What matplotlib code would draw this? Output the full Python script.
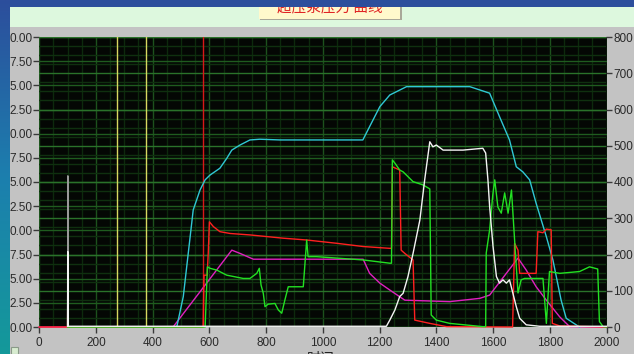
import matplotlib
matplotlib.use("Agg")
import matplotlib.pyplot as plt
import numpy as np
from matplotlib.patches import Rectangle
from matplotlib.ticker import MultipleLocator
from matplotlib.colors import LinearSegmentedColormap

# ---------------- data (right-axis units 0-800) -------------
cyan_x = [100, 485, 508, 543, 567, 585, 602, 637, 661, 679, 708, 743, 778, 849, 1141,
          1165, 1201, 1236, 1295, 1518, 1588, 1623, 1658, 1682, 1705, 1729, 1752,
          1788, 1811, 1840, 1858, 1893, 1905]
cyan_y = [0, 0, 84, 323, 378, 406, 419, 438, 465, 488, 502, 516, 518, 516, 516,
          553, 608, 640, 663, 663, 645, 580, 516, 442, 428, 406, 341,
          249, 185, 74, 24, 6, 0]

white_x = [100, 101, 102, 1224, 1236, 1254, 1271, 1283, 1300, 1318, 1342, 1359, 1377,
           1388, 1400, 1424, 1494, 1564, 1574, 1582, 1588, 1600, 1612, 1623, 1635,
           1647, 1658, 1670, 1682, 1694, 1717, 1764, 2000]
white_y = [2, 208, 2, 2, 19, 47, 84, 93, 139, 203, 295, 406, 511,
           497, 502, 488, 488, 493, 480, 406, 332, 222, 139, 121, 130,
           121, 130, 93, 56, 24, 6, 2, 2]

gray_x = [100, 101, 102]
gray_y = [0, 417, 0]

red_x = [0, 100, 101, 102, 578, 581, 592, 596, 600, 614, 637, 673, 743, 860, 943, 1048,
         1142, 1236, 1242, 1245, 1271, 1276, 1289, 1318, 1324, 1377, 1436, 1669,
         1676, 1688, 1694, 1752, 1758, 1776, 1788, 1805, 1809, 1835, 2000]
red_y = [0, 0, 111, 0, 0, 143, 143, 204, 290, 277, 263, 258, 254, 245, 240, 231,
         222, 217, 217, 442, 433, 212, 203, 185, 19, 10, 1, 0,
         231, 212, 148, 148, 263, 260, 270, 268, 10, 3, 0]

magenta_x = [0, 473, 679, 708, 755, 1142, 1165, 1201, 1236, 1289, 1447, 1553, 1588,
             1688, 1717, 1752, 1788, 1835, 1870, 2000]
magenta_y = [0, 1, 212, 203, 187, 187, 148, 121, 102, 74, 70, 79, 88,
             190, 157, 111, 74, 28, 1, 0]

green_x = [100, 585, 593, 602, 626, 661, 719, 743, 767, 776, 782, 790, 796, 807, 831,
           843, 855, 866, 878, 931, 943, 948, 978, 1142, 1236, 1242, 1245, 1254, 1271,
           1283, 1318, 1353, 1377, 1382, 1400, 1447, 1564, 1574, 1576, 1588, 1599,
           1606, 1617, 1629, 1641, 1653, 1665, 1676, 1688, 1699, 1711, 1776, 1788,
           1799, 1835, 1905, 1940, 1969, 1975, 1988, 2000]
green_y = [0, 0, 166, 162, 157, 143, 134, 134, 148, 162, 116, 93, 56, 63, 65,
           47, 38, 74, 111, 111, 240, 194, 194, 185, 176, 176, 461, 452, 433,
           428, 401, 392, 381, 33, 19, 10, 1, 1, 204, 268, 364,
           406, 331, 314, 370, 314, 378, 240, 94, 130, 134, 134, 10,
           153, 148, 153, 166, 160, 15, 1, 0]

yellow_cursors = [276, 378]
red_cursor = 577

x_ticks = [0, 200, 400, 600, 800, 1000, 1200, 1400, 1600, 1800, 2000]
left_ticks = [0, 12.5, 25, 37.5, 50, 62.5, 75, 87.5, 100, 112.5, 125, 137.5, 150]
left_labels = ['0.00', '2.50', '5.00', '7.50', '0.00', '2.50', '5.00', '7.50',
               '0.00', '2.50', '5.00', '7.50', '0.00']
right_ticks = [0, 100, 200, 300, 400, 500, 600, 700, 800]
title_text = "超压泵压力 曲线"
xlabel_text = "时间"

# ---------------- figure ----------------
W, H = 634, 354
fig = plt.figure(figsize=(W / 100, H / 100), dpi=100, facecolor='#c3c3c3')
CJK = ['Noto Sans CJK SC', 'DejaVu Sans']
TICKFONT = ['Liberation Sans', 'DejaVu Sans']

def fx(px):
    return px / W

def fy(py):
    return 1 - py / H

# mint header
fig.patches.append(Rectangle((0, fy(27)), 1, fy(0) - fy(27), transform=fig.transFigure,
                             facecolor='#ddf8de', edgecolor='none', zorder=1))
# button
fig.patches.append(Rectangle((fx(260), fy(20)), fx(142), fy(0) - fy(20), transform=fig.transFigure,
                             facecolor='#a8a898', edgecolor='none', zorder=1.1))
fig.patches.append(Rectangle((fx(259), fy(19)), fx(141), fy(0) - fy(19), transform=fig.transFigure,
                             facecolor='#fff9cc', edgecolor='none', zorder=1.2))
fig.text(fx(330), fy(7), title_text, color='#e02424', fontsize=10.5, family=CJK,
         ha='center', va='center', zorder=2)
# top blue strip
fig.patches.append(Rectangle((0, fy(7)), 1, fy(0) - fy(7), transform=fig.transFigure,
                             facecolor='#2c4e9c', edgecolor='none', zorder=5))
# x label partially visible
fig.text(fx(321), fy(359), xlabel_text, color='#202020', fontsize=10, family=CJK,
         ha='center', va='center', zorder=2)
# small checkbox
fig.patches.append(Rectangle((fx(11), fy(354)), fx(7), fy(347) - fy(354), transform=fig.transFigure,
                             facecolor='#d8ecd0', edgecolor='#8a9a88', lw=0.8, zorder=2))

# left gradient strip
gax = fig.add_axes([0, 0, fx(10), 1], zorder=6)
grad = np.linspace(0, 1, 256).reshape(-1, 1)
cmap = LinearSegmentedColormap.from_list('g', ['#2c4e9c', '#1c7fae', '#14999a'])
gax.imshow(grad, aspect='auto', cmap=cmap, extent=[0, 1, 1, 0])
gax.set_axis_off()

# main axes
L, R, T, B = 39.2, 606.5, 37, 327
ax = fig.add_axes([fx(L), fy(B), fx(R - L), fy(T) - fy(B)], zorder=3)
ax.set_facecolor('#040704')
ax2 = ax.twinx()

ax.set_xlim(0, 2000)
ax.set_ylim(0, 150)
ax2.set_ylim(0, 800)

# grid
ax.xaxis.set_minor_locator(MultipleLocator(50))
ax.grid(which='minor', axis='x', color='#0d2a0d', lw=1.0)
ax.grid(which='major', axis='x', color='#1d521d', lw=1.0)
ax.set_yticks(left_ticks)
ax.set_yticklabels(left_labels)
ax.grid(which='major', axis='y', color='#1f5c1f', lw=1.0)
ax2.set_yticks(right_ticks)
ax2.yaxis.set_minor_locator(MultipleLocator(25))
ax2.grid(which='minor', axis='y', color='#0f300f', lw=1.0)
ax2.grid(which='major', axis='y', color='#2a722a', lw=1.0)
ax.set_xticks(x_ticks)
ax.set_axisbelow(True)

for a in (ax, ax2):
    for s in a.spines.values():
        s.set_visible(False)
    a.tick_params(which='minor', length=0)
    a.tick_params(which='major', length=4, width=1, color='#3a3a3a', labelcolor='#2a2a2a',
                  labelsize=8.5, pad=1)
for lab in ax.get_xticklabels() + ax.get_yticklabels() + ax2.get_yticklabels():
    lab.set_family(TICKFONT)
ax.tick_params(axis='x', pad=3)

# cursors
for cx in yellow_cursors:
    ax2.axvline(cx, color='#d8d860', lw=1.0, zorder=2)
ax2.axvline(red_cursor, color='#d81818', lw=1.0, zorder=2)

lw = 1.0
ax2.plot(magenta_x, magenta_y, color='#e020c0', lw=lw, clip_on=False, zorder=3)
ax2.plot(cyan_x, cyan_y, color='#30c8d4', lw=lw, clip_on=False, zorder=3)
ax2.plot(gray_x, gray_y, color='#9a9a9a', lw=lw, clip_on=False, zorder=3)
ax2.plot(red_x, red_y, color='#ff2020', lw=lw, clip_on=False, zorder=4)
ax2.plot(green_x, green_y, color='#22e022', lw=lw, clip_on=False, zorder=4)
ax2.plot(white_x, white_y, color='#f4f4f4', lw=lw, clip_on=False, zorder=5)

fig.savefig('out.png', dpi=100, facecolor=fig.get_facecolor())
